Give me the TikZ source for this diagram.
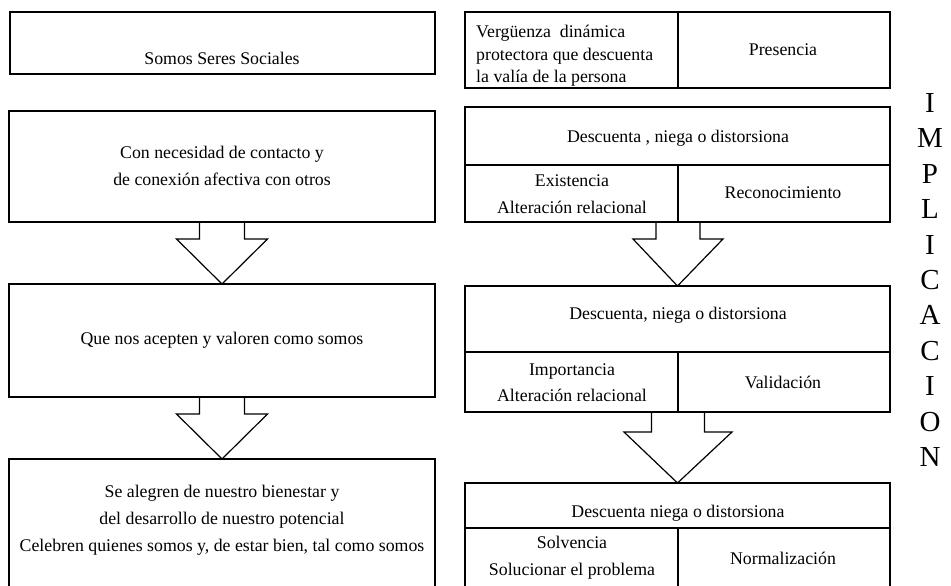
\documentclass[tikz,border=0pt]{standalone}
\usepackage{fontspec}
\setmainfont{Liberation Serif}
\usetikzlibrary{calc}
\begin{document}
\begin{tikzpicture}[x=1pt,y=-1pt,
  cell/.style={draw, line width=1.2pt, anchor=north west, inner sep=0pt, outer sep=0pt},
  txt/.style={font=\fontsize{17.8}{27}\selectfont, align=center, inner sep=0pt},
  txtr/.style={font=\fontsize{17.8}{26.5}\selectfont, align=center, inner sep=0pt},
  blk/.style={draw, line width=1.2pt, line join=miter},
  letter/.style={font=\fontsize{29}{29}\selectfont, inner sep=0pt}]
\fill[white] (0,0) rectangle (951,586);
\useasboundingbox (0,0) rectangle (951,586);
\clip (0,0) rectangle (951,586);

% ---------- left column ----------
\node[cell, minimum width=425pt, minimum height=62pt] (L1) at (10,12) {};
\node[cell, minimum width=426pt, minimum height=111pt] (L2) at (9,111) {};
\node[cell, minimum width=426pt, minimum height=113pt] (L3) at (9,284) {};
\node[cell, minimum width=426pt, minimum height=135pt] (L4) at (9,459) {};

\node[txt] (tL1) at (222,58) {Somos Seres Sociales};
\node[txt] (tL2) at (222,166) {Con necesidad de contacto y\\de conexión afectiva con otros};
\node[txt] (tL3) at (222,340) {Que nos acepten y valoren como somos};
\node[txt] (tL4) at (222,520) {Se alegren de nuestro bienestar y\\del desarrollo de nuestro potencial\\Celebren quienes somos y, de estar bien, tal como somos};

% block arrows left
\draw[blk] ([xshift=-22.5pt]L2.south) -- ++(0,17) -- ++(-23,0) -- (L3.north)
  -- ([xshift=45.5pt,yshift=-17pt]L2.south) -- ++(-23,0) -- ([xshift=22.5pt]L2.south);
\draw[blk] ([xshift=-22.5pt]L3.south) -- ++(0,17) -- ++(-23,0) -- (L4.north)
  -- ([xshift=45.5pt,yshift=-17pt]L3.south) -- ++(-23,0) -- ([xshift=22.5pt]L3.south);

% ---------- right column ----------
\node[cell, minimum width=213pt, minimum height=76pt] (R1a) at (465,12) {};
\node[cell, minimum width=212pt, minimum height=76pt] (R1b) at (678,12) {};

\node[cell, minimum width=425pt, minimum height=58pt] (R2t) at (465,107) {};
\node[cell, minimum width=213pt, minimum height=57pt] (R2a) at (465,165) {};
\node[cell, minimum width=212pt, minimum height=57pt] (R2b) at (678,165) {};

\node[cell, minimum width=425pt, minimum height=66pt] (R3t) at (465,286) {};
\node[cell, minimum width=213pt, minimum height=60pt] (R3a) at (465,352) {};
\node[cell, minimum width=212pt, minimum height=60pt] (R3b) at (678,352) {};

\node[cell, minimum width=425pt, minimum height=45pt] (R4t) at (465,483) {};
\node[cell, minimum width=213pt, minimum height=66pt] (R4a) at (465,528) {};
\node[cell, minimum width=212pt, minimum height=66pt] (R4b) at (678,528) {};

\node[font=\fontsize{17.8}{22.5}\selectfont, align=left, inner sep=0pt, anchor=west] (tR1a) at (476,56)
  {Vergüenza\ \ dinámica\\protectora que descuenta\\la valía de la persona};
\node[txt] (tR1b) at (783,50) {Presencia};

\node[txt] (tR2t) at (678,138) {Descuenta , niega o distorsiona};
\node[txtr] (tR2a) at (572,194) {Existencia\\Alteración relacional};
\node[txt] (tR2b) at (783,193) {Reconocimiento};

\node[txt] (tR3t) at (678,315) {Descuenta, niega o distorsiona};
\node[txtr] (tR3a) at (572,382.5) {Importancia\\Alteración relacional};
\node[txt] (tR3b) at (783,382) {Validación};

\node[txt] (tR4t) at (678,513) {Descuenta niega o distorsiona};
\node[txtr] (tR4a) at (572,557.5) {Solvencia\\Solucionar el problema};
\node[txt] (tR4b) at (783,558) {Normalización};

% block arrows right
\draw[blk] ([xshift=-22pt]R2a.south east) -- ++(0,17) -- ++(-23,0) -- (R3t.north)
  -- ([xshift=45pt,yshift=-17pt]R2a.south east) -- ++(-23,0) -- ([xshift=22pt]R2a.south east);
\draw[blk] ([xshift=-26.5pt]R3a.south east) -- ++(0,20) -- ++(-27.5,0) -- (R4t.north)
  -- ([xshift=54pt,yshift=-20pt]R3a.south east) -- ++(-27.5,0) -- ([xshift=26.5pt]R3a.south east);

% ---------- vertical word ----------
\foreach \c [count=\i from 0] in {I,M,P,L,I,C,A,C,I,O,N} {
  \node[letter] (imp\i) at (930,{103+35.4*\i}) {\c};
}
\end{tikzpicture}
\end{document}
